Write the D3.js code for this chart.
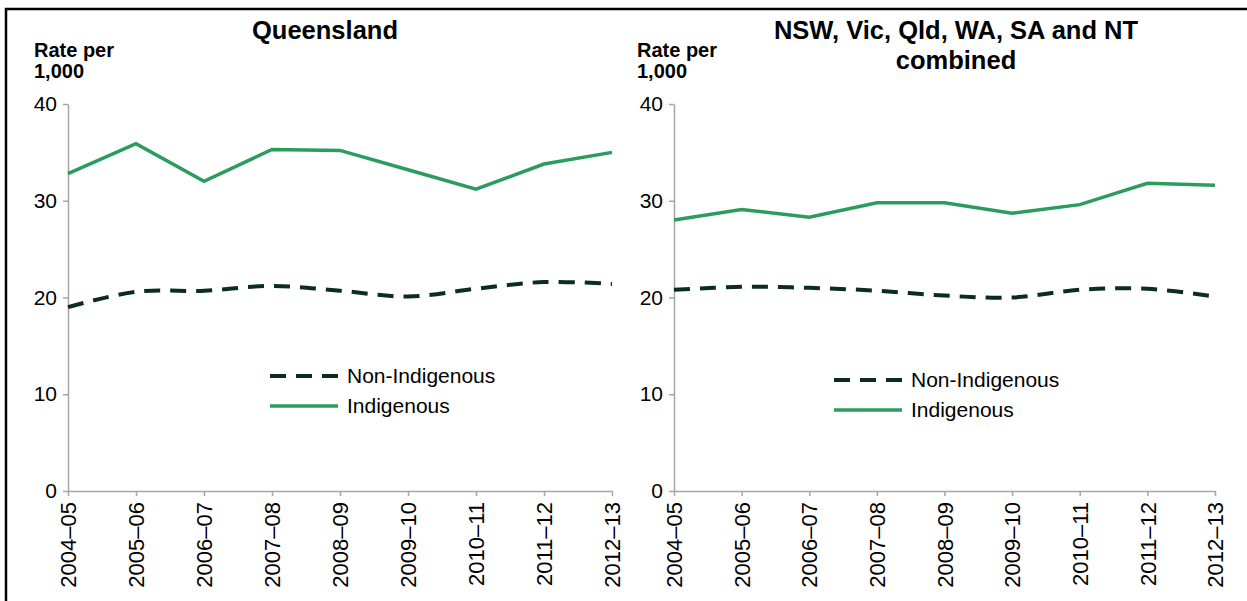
<!DOCTYPE html>
<head>
    <script src="https://d3js.org/d3.v7.min.js"></script>
    <style>
        body { margin: 0; background: #fff; }
        text { font-family: "Liberation Sans", Arial, sans-serif; fill: #000; }
    </style>
</head>
<body>
    <svg></svg>
</body>

<script>
    // Data
    var years = ["2004–05", "2005–06", "2006–07", "2007–08", "2008–09",
                 "2009–10", "2010–11", "2011–12", "2012–13"];
    var yTicks = [0, 10, 20, 30, 40];

    var qldIndigenous    = [32.8, 35.9, 32.0, 35.3, 35.2, 33.2, 31.2, 33.8, 35.0];
    var qldNonIndigenous = [19.0, 20.6, 20.7, 21.2, 20.7, 20.1, 20.9, 21.6, 21.4];

    var allIndigenous    = [28.0, 29.1, 28.3, 29.8, 29.8, 28.7, 29.6, 31.8, 31.6];
    var allNonIndigenous = [20.8, 21.1, 21.0, 20.7, 20.2, 20.0, 20.8, 20.9, 20.1];

    var panels = [
        { title: ["Queensland"], titleX: 325, left: 68, right: 612, legendX: 270, legendY: 376,
          indigenous: qldIndigenous, nonIndigenous: qldNonIndigenous, labelX: 34 },
        { title: ["NSW, Vic, Qld, WA, SA and NT", "combined"], titleX: 956, left: 674, right: 1215, legendX: 834, legendY: 380,
          indigenous: allIndigenous, nonIndigenous: allNonIndigenous, labelX: 637 }
    ];

    var width = 1247, height = 601;
    var green = "#2a9d5c", dark = "#0b2d1c", axisGrey = "#a6a6a6";

    var svg = d3.select('svg')
        .attr('width', width)
        .attr('height', height);

    // Frame (left and top edges only)
    svg.append('path')
        .attr('d', 'M6,' + height + 'V9H' + width)
        .attr('fill', 'none')
        .attr('stroke', '#000')
        .attr('stroke-width', 2.5);

    var y = d3.scaleLinear().domain([0, 40]).range([491, 104]);

    panels.forEach(function (p) {
        var g = svg.append('g');
        var x = d3.scalePoint().domain(years).range([p.left, p.right]);

        // Title
        g.append('text')
            .attr('x', p.titleX)
            .attr('y', 39)
            .attr('text-anchor', 'middle')
            .style('font-size', '25.5px')
            .style('font-weight', 'bold')
            .selectAll('tspan')
            .data(p.title)
            .enter().append('tspan')
            .attr('x', p.titleX)
            .attr('dy', function (d, i) { return i ? 30 : 0; })
            .text(function (d) { return d; });

        // Y axis label
        g.append('text')
            .attr('x', p.labelX)
            .attr('y', 57)
            .style('font-size', '20px')
            .style('font-weight', 'bold')
            .selectAll('tspan')
            .data(["Rate per", "1,000"])
            .enter().append('tspan')
            .attr('x', p.labelX)
            .attr('dy', function (d, i) { return i ? 21 : 0; })
            .text(function (d) { return d; });

        // Y axis
        var yAxis = g.append('g')
            .attr('transform', 'translate(' + p.left + ',0)')
            .call(d3.axisLeft(y).tickValues(yTicks).tickSize(5).tickSizeOuter(0).tickPadding(6));
        yAxis.select('.domain').attr('stroke', axisGrey).attr('stroke-width', 1.5);
        yAxis.selectAll('.tick line').attr('stroke', axisGrey).attr('stroke-width', 1.5);
        yAxis.selectAll('.tick text').style('font-size', '21px').attr('fill', '#000');

        // X axis
        var xAxis = g.append('g')
            .attr('transform', 'translate(0,' + y(0) + ')')
            .call(d3.axisBottom(x).tickSize(5).tickSizeOuter(0));
        xAxis.select('.domain').attr('stroke', axisGrey).attr('stroke-width', 1.5);
        xAxis.selectAll('.tick line').attr('stroke', axisGrey).attr('stroke-width', 1.5);
        xAxis.selectAll('.tick text')
            .style('font-size', '22px')
            .attr('fill', '#000')
            .attr('text-anchor', 'end')
            .attr('transform', 'rotate(-90)')
            .attr('x', -11)
            .attr('y', 0)
            .attr('dy', '0.35em');

        // Lines
        var lineStraight = d3.line()
            .x(function (d, i) { return x(years[i]); })
            .y(function (d) { return y(d); });
        var lineSmooth = d3.line()
            .curve(d3.curveCatmullRom.alpha(0.5))
            .x(function (d, i) { return x(years[i]); })
            .y(function (d) { return y(d); });

        g.append('path')
            .datum(p.nonIndigenous)
            .attr('d', lineSmooth)
            .attr('fill', 'none')
            .attr('stroke', dark)
            .attr('stroke-width', 4)
            .attr('stroke-dasharray', '16,10');

        g.append('path')
            .datum(p.indigenous)
            .attr('d', lineStraight)
            .attr('fill', 'none')
            .attr('stroke', green)
            .attr('stroke-width', 3.5);

        // Legend
        var legend = [
            { name: "Non-Indigenous", color: dark, dash: '16,10', w: 4 },
            { name: "Indigenous", color: green, dash: null, w: 3.5 }
        ];
        var lg = g.selectAll('.legend')
            .data(legend)
            .enter().append('g')
            .attr('transform', function (d, i) { return 'translate(' + p.legendX + ',' + (p.legendY + i * 30) + ')'; });
        lg.append('line')
            .attr('x1', 0).attr('x2', 68)
            .attr('stroke', function (d) { return d.color; })
            .attr('stroke-width', function (d) { return d.w; })
            .attr('stroke-dasharray', function (d) { return d.dash; });
        lg.append('text')
            .attr('x', 77)
            .attr('dy', '0.35em')
            .style('font-size', '21px')
            .text(function (d) { return d.name; });
    });
</script>
